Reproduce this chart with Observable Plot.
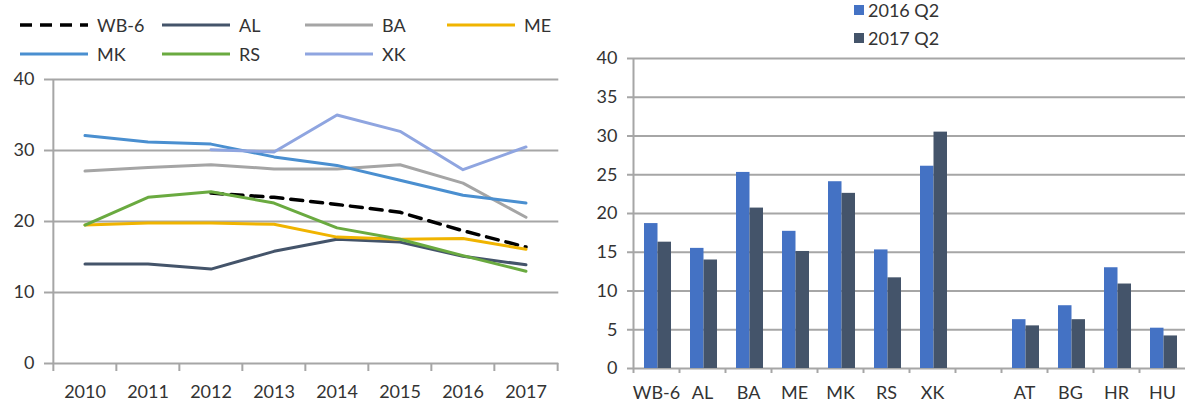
<!DOCTYPE html>
<html><head><meta charset="utf-8">
<script src="https://cdn.jsdelivr.net/npm/d3@7"></script>
<script src="https://cdn.jsdelivr.net/npm/@observablehq/plot@0.6"></script>
<style>
body{margin:0;background:#fff;font-family:Lato,"Liberation Sans",sans-serif;color:#333}
#wrap{position:relative;width:1185px;height:405px;overflow:hidden}
.abs{position:absolute}
.item{position:absolute;display:flex;align-items:center;font-size:18px;line-height:18px;height:18px;white-space:nowrap}
</style></head><body><div id="wrap"></div>
<script>
// ---------- data ----------
const years = ["2010","2011","2012","2013","2014","2015","2016","2017"];
const seriesNames = ["WB-6","AL","BA","ME","MK","RS","XK"];
const wb6 = [null, null, 24.0, 23.4, 22.4, 21.3, 18.7, 16.4];
const al  = [14.0, 14.0, 13.3, 15.8, 17.5, 17.1, 15.1, 13.9];
const ba  = [27.1, 27.6, 28.0, 27.4, 27.4, 28.0, 25.4, 20.6];
const me  = [19.5, 19.8, 19.8, 19.6, 17.8, 17.5, 17.6, 16.1];
const mk  = [32.1, 31.2, 30.9, 29.1, 27.9, 25.8, 23.7, 22.6];
const rs  = [19.5, 23.4, 24.2, 22.6, 19.1, 17.5, 15.2, 13.0];
const xk  = [null, null, 30.1, 29.8, 35.0, 32.7, 27.3, 30.5];
const leftTicks = [0, 10, 20, 30, 40];

const barCategories = ["WB-6","AL","BA","ME","MK","RS","XK"," ","AT","BG","HR","HU"];
const barSeries = ["2016 Q2","2017 Q2"];
const q2016 = [18.7, 15.5, 25.3, 17.7, 24.1, 15.3, 26.1, null, 6.3, 8.1, 13.0, 5.2];
const q2017 = [16.3, 14.0, 20.7, 15.1, 22.6, 11.7, 30.5, null, 5.5, 6.3, 10.9, 4.2];
const rightTicks = [0, 5, 10, 15, 20, 25, 30, 35, 40];

// ---------- styles ----------
const lineColors = ["#000000","#44546A","#A5A5A5","#F0B400","#4A8FD0","#6AAA40","#8FA5E0"];
const barColors = ["#4472C4","#44546A"];
const gridColor = "#A6A6A6";
const textColor = "#333333";
const font = {fontFamily:"Lato, 'Liberation Sans', sans-serif", fontSize:"18px", color:textColor, background:"transparent", overflow:"visible"};

const wrap = document.getElementById("wrap");

// ---------- left chart ----------
const seriesValues = [wb6, al, ba, me, mk, rs, xk];
const lineData = seriesNames.flatMap((s, i) => years.map((y, j) => ({series: s, year: y, value: seriesValues[i][j]})))
  .filter(d => d.value != null);

const L = {width: 580, height: 339, ml: 52, mr: 21.7, mt: 13, mb: 42};
const bwL = (L.width - L.ml - L.mr) / years.length;

const left = Plot.plot({
  width: L.width, height: L.height,
  marginLeft: L.ml, marginRight: L.mr, marginTop: L.mt, marginBottom: L.mb,
  style: font,
  x: {type: "band", domain: years, padding: 0},
  y: {domain: [0, 40]},
  color: {domain: seriesNames, range: lineColors},
  marks: [
    Plot.ruleY(leftTicks, {y: d => d, stroke: gridColor, strokeWidth: 2}),
    Plot.axisY({ticks: leftTicks, tickSize: 8, tickPadding: 10, stroke: gridColor, strokeWidth: 2, fill: textColor, label: null}),
    Plot.ruleX([years[0]], {x: d => d, dx: -bwL / 2, y1: 0, y2: 40, stroke: gridColor, strokeWidth: 2}),
    Plot.ruleX(years, {x: d => d, dx: -bwL / 2, y1: 0, y2: 0, insetBottom: -8, stroke: gridColor, strokeWidth: 2}),
    Plot.ruleX([years[years.length - 1]], {x: d => d, dx: bwL / 2, y1: 0, y2: 0, insetBottom: -8, stroke: gridColor, strokeWidth: 2}),
    Plot.axisX({tickSize: 0, tickPadding: 22, fill: textColor, label: null}),
    Plot.line(lineData.filter(d => d.series === "WB-6"), {x: "year", y: "value", stroke: "#000", strokeWidth: 3.5, strokeDasharray: "12,8"}),
    Plot.line(lineData.filter(d => d.series !== "WB-6"), {x: "year", y: "value", z: "series", stroke: "series", strokeWidth: 3})
  ]
});
left.classList.add("abs");
left.style.left = "0px";
left.style.top = "66px";
wrap.appendChild(left);

// left legend
const legPos = [[20,25],[162,25],[305,25],[447,25],[20,54],[162,54],[305,54]];
seriesNames.forEach((s, i) => {
  const it = document.createElement("div");
  it.className = "item";
  it.style.left = legPos[i][0] + "px";
  it.style.top = (legPos[i][1] - 9) + "px";
  const dash = s === "WB-6" ? 'stroke-dasharray="12,8"' : "";
  const sw = s === "WB-6" ? 3.5 : 3;
  it.innerHTML = `<svg width="68" height="10" style="margin-right:9px"><line x1="0" x2="68" y1="5" y2="5" stroke="${lineColors[i]}" stroke-width="${sw}" ${dash}/></svg><span>${s}</span>`;
  wrap.appendChild(it);
});

// ---------- right chart ----------
const R = {width: 605, height: 355, ml: 53, mr: 0, mt: 8, mb: 37};
const bwR = (R.width - R.ml - R.mr) / barCategories.length;
const bars16 = barCategories.map((c, i) => ({cat: c, value: q2016[i]})).filter(d => d.value != null);
const bars17 = barCategories.map((c, i) => ({cat: c, value: q2017[i]})).filter(d => d.value != null);

const right = Plot.plot({
  width: R.width, height: R.height,
  marginLeft: R.ml, marginRight: R.mr, marginTop: R.mt, marginBottom: R.mb,
  style: font,
  x: {type: "band", domain: barCategories, padding: 0},
  y: {domain: [0, 40]},
  marks: [
    Plot.ruleY(rightTicks, {y: d => d, stroke: gridColor, strokeWidth: 2}),
    Plot.axisY({ticks: rightTicks, tickSize: 6, tickPadding: 10, stroke: gridColor, strokeWidth: 2, fill: textColor, label: null}),
    Plot.ruleX([barCategories[0]], {x: d => d, dx: -bwR / 2, y1: 0, y2: 40, stroke: gridColor, strokeWidth: 2}),
    Plot.ruleX(barCategories, {x: d => d, dx: -bwR / 2, y1: 0, y2: 0, insetBottom: -5, stroke: gridColor, strokeWidth: 2}),
    Plot.axisX({tickSize: 0, tickPadding: 18, fill: textColor, label: null}),
    Plot.barY(bars16, {x: "cat", y: "value", fill: barColors[0], insetLeft: 11, insetRight: 21.5}),
    Plot.barY(bars17, {x: "cat", y: "value", fill: barColors[1], insetLeft: 24.5, insetRight: 8})
  ]
});
right.classList.add("abs");
right.style.left = "580px";
right.style.top = "50px";
wrap.appendChild(right);

// right legend
barSeries.forEach((s, i) => {
  const it = document.createElement("div");
  it.className = "item";
  it.style.left = "854px";
  it.style.top = (i === 0 ? 1 : 29) + "px";
  it.innerHTML = `<svg width="10" height="10" style="margin-right:4px"><rect width="10" height="10" fill="${barColors[i]}"/></svg><span>${s}</span>`;
  wrap.appendChild(it);
});
</script>
</body></html>
